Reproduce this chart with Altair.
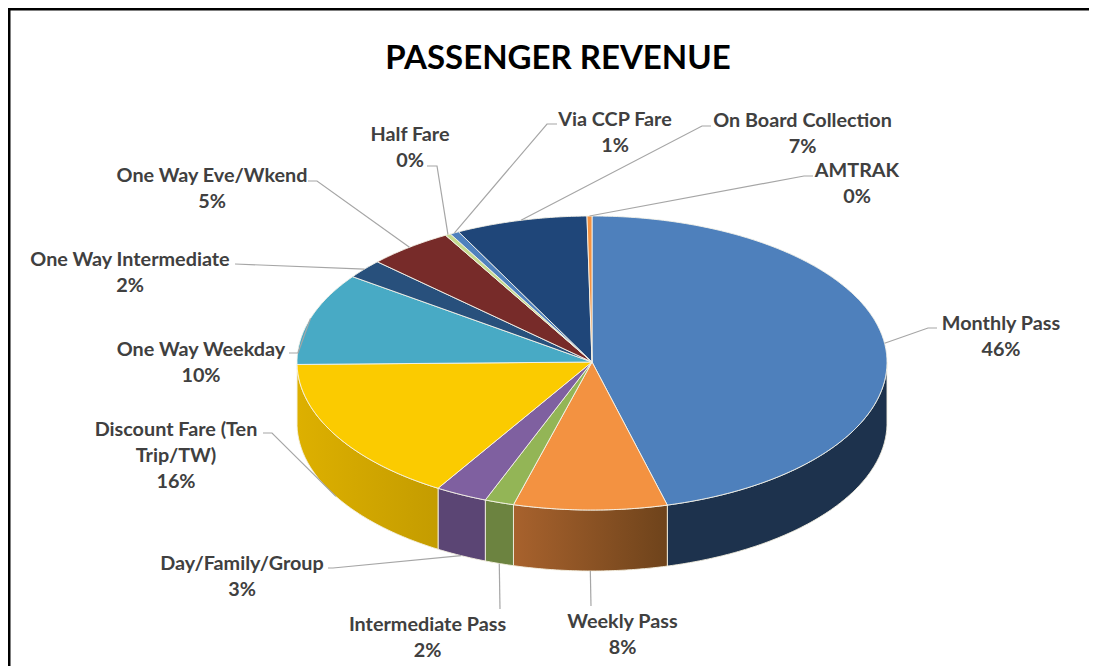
import math
import altair as alt
import pandas as pd

# ---- chart values
categories = ["Monthly Pass", "Weekly Pass", "Intermediate Pass", "Day/Family/Group",
              "Discount Fare (Ten Trip/TW)", "One Way Weekday", "One Way Intermediate",
              "One Way Eve/Wkend", "Half Fare", "Via CCP Fare", "On Board Collection", "AMTRAK"]
shares = [45.9, 8.4, 1.6, 2.85, 16.0, 10.2, 2.1, 4.7, 0.3, 0.5, 7.2, 0.27]
pct_labels = ["46%", "8%", "2%", "3%", "16%", "10%", "2%", "5%", "0%", "1%", "7%", "0%"]
label_lines = [["Monthly Pass"], ["Weekly Pass"], ["Intermediate Pass"], ["Day/Family/Group"],
               ["Discount Fare (Ten", "Trip/TW)"], ["One Way Weekday"], ["One Way Intermediate"],
               ["One Way Eve/Wkend"], ["Half Fare"], ["Via CCP Fare"], ["On Board Collection"], ["AMTRAK"]]

# ---- styling
top_colors = ["#4E80BC", "#F39241", "#93B556", "#7F60A0", "#FBCB00", "#48AAC5",
              "#28507C", "#772B29", "#C5DB8F", "#4F81BD", "#1F4679", "#F39241"]
side_colors = {0: ("#1D324D", "#1D324D"), 1: ("#A8622D", "#6E431B"), 2: ("#6C8340", "#6C8340"),
               3: ("#5B4574", "#5B4574"), 4: ("#DDB000", "#C49C00")}

# ---- layout (in page pixels of the reference)
W, H = 1089, 666
CX, CY, RX, RY_BACK, RY_FRONT, DEPTH = 592, 362, 295, 146, 148, 61
# label centre x, first-line centre y, leader polyline points from the label towards the pie
label_layout = [
    (1001, 323.5, [(937, 328), (928, 328)]),
    (622.5, 621.5, [(591, 606)]),
    (427.5, 624.5, [(500, 609)]),
    (242, 563.5, [(328, 568), (333, 568)]),
    (176, 429.5, [(263, 433), (272, 433)]),
    (201, 349.5, [(289, 353), (298, 353)]),
    (130, 259.5, [(235, 264)]),
    (212, 175.5, [(308, 181), (317, 181)]),
    (410, 134.5, [(427, 166), (437, 166)]),
    (615, 119.5, [(557, 124), (547, 124)]),
    (802.5, 120.5, [(711, 126), (702, 126)]),
    (857, 170.5, [(813, 176), (804, 176)]),
]
LINE_STEP = 26


def rim(t_deg, drop=0.0):
    t = math.radians(t_deg)
    c = math.cos(t)
    ry = RY_BACK if c > 0 else RY_FRONT
    return CX + RX * math.sin(t), CY - ry * c + drop


def arc(t0, t1, drop=0.0):
    n = max(2, int(abs(t1 - t0) * 2) + 1)
    return [rim(t0 + (t1 - t0) * i / (n - 1), drop) for i in range(n)]


xs = alt.X("x:Q", scale=alt.Scale(domain=[8, W], range=[0, W - 8], nice=False, zero=False), axis=None)
ys = alt.Y("y:Q", scale=alt.Scale(domain=[8, H], range=[0, H - 8], nice=False, zero=False), axis=None)


def table(points):
    return pd.DataFrame({"x": [p[0] for p in points], "y": [p[1] for p in points],
                         "o": list(range(len(points)))})


def path_layer(points, **mark):
    return alt.Chart(table(points)).mark_line(**mark).encode(x=xs, y=ys, order="o:Q")


total = sum(shares)
starts, ends, acc = [], [], 0.0
for s in shares:
    starts.append(acc * 360 / total)
    acc += s
    ends.append(acc * 360 / total)

layers = []
# side walls, only where the rim faces the viewer
for i, (c0, c1) in side_colors.items():
    t0, t1 = max(starts[i], 90.0), min(ends[i], 270.0)
    pts = arc(t0, t1) + arc(t1, t0, DEPTH)
    pts.append(pts[0])
    fill = c0 if c0 == c1 else alt.Gradient(
        gradient="linear", x1=0, y1=0, x2=1, y2=0,
        stops=[alt.GradientStop(color=c0, offset=0), alt.GradientStop(color=c1, offset=1)])
    layers.append(path_layer(pts, fill=fill, stroke="#F4EFE0", strokeWidth=0.9, interpolate="linear"))

# top faces
for i in range(len(shares)):
    pts = [(CX, CY)] + arc(starts[i], ends[i]) + [(CX, CY)]
    layers.append(path_layer(pts, fill=top_colors[i], stroke="#F6F4EA", strokeWidth=0.9, interpolate="linear"))

# leaders, ending on the rim at the middle of each slice
for i in range(len(shares)):
    mid = (starts[i] + ends[i]) / 2
    anchor = rim(mid, DEPTH if 90 < mid < 270 else 0)
    pts = list(label_layout[i][2]) + [anchor]
    layers.append(path_layer(pts, stroke="#A6A6A6", strokeWidth=1.2, interpolate="linear"))

# labels
rows = []
for i in range(len(shares)):
    cx, y0, _ = label_layout[i]
    for k, line in enumerate(label_lines[i] + [pct_labels[i]]):
        rows.append({"x": cx, "y": y0 + k * LINE_STEP, "t": line})
layers.append(alt.Chart(pd.DataFrame(rows)).mark_text(
    font="Lato", fontWeight="bold", fontSize=19.8, color="#404040", baseline="middle", align="center"
).encode(x=xs, y=ys, text="t:N"))

# title
layers.append(alt.Chart(pd.DataFrame([{"x": 558, "y": 59, "t": "PASSENGER REVENUE"}])).mark_text(
    font="Lato", fontWeight="bold", fontSize=33, color="#000000", baseline="middle", align="center"
).encode(x=xs, y=ys, text="t:N"))

# frame: only the top and left edges are in the picture
layers.append(path_layer([(9, H), (9, 9), (W, 9)], stroke="#000000", strokeWidth=3, interpolate="linear"))

chart = alt.layer(*layers).resolve_scale(x="shared", y="shared").properties(
    width=W - 8, height=H - 8, padding=0, autosize=alt.AutoSizeParams(type="none"),
    background="#FFFFFF"
).configure_view(stroke=None)

chart.save("out.html", embed_options={"renderer": "svg", "actions": False})
